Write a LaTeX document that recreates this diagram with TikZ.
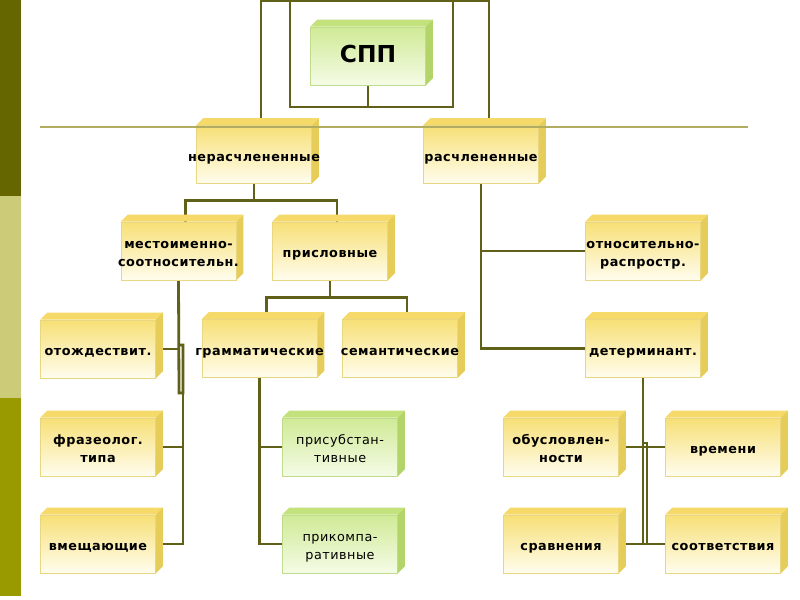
\documentclass[tikz,border=0pt]{standalone}
\usepackage{fontspec}
\setmainfont{DejaVu Sans}
\usetikzlibrary{calc}
\pgfdeclarelayer{bg}
\pgfdeclarelayer{mid}
\pgfsetlayers{bg,mid,main}
\definecolor{lineol}{RGB}{96,96,24}
\definecolor{hline}{RGB}{178,172,96}
\definecolor{sbA}{RGB}{102,102,0}
\definecolor{sbB}{RGB}{204,204,120}
\definecolor{sbC}{RGB}{153,153,0}
\definecolor{yTop}{RGB}{247,224,118}
\definecolor{yBot}{RGB}{255,253,238}
\definecolor{yFace}{RGB}{245,218,105}
\definecolor{ySide}{RGB}{230,204,88}
\definecolor{yEdge}{RGB}{232,214,130}
\definecolor{gTop}{RGB}{208,234,150}
\definecolor{gBot}{RGB}{245,251,230}
\definecolor{gFace}{RGB}{196,226,124}
\definecolor{gSide}{RGB}{178,212,104}
\definecolor{gEdge}{RGB}{190,220,140}
\newfontfamily\boxfont[LetterSpace=4]{DejaVu Sans}
\newcommand{\cx}[1]{\makebox[0pt]{#1}}
\tikzset{
  ybox/.style={minimum width=86.25pt, minimum height=43.5pt, inner sep=0pt,
    text width=86.25pt,
    top color=yTop, bottom color=yBot, draw=yEdge, line width=0.4pt,
    align=center, font=\boxfont\bfseries\fontsize{9.6}{13}\selectfont,
    execute at begin node={\rule{0pt}{12.9pt}},
    execute at end node={\rule[-3pt]{0pt}{0pt}}},
  gbox/.style={ybox, top color=gTop, bottom color=gBot, draw=gEdge,
    font=\boxfont\fontsize{9.6}{13}\selectfont},
  conn/.style={draw=lineol, line width=2.1pt},
}
\newcommand{\facesY}[1]{%
  \fill[yFace] (#1.north west) -- ++(7,-7) -- ($(#1.north east)+(7,-7)$) -- (#1.north east) -- cycle;
  \fill[ySide] (#1.north east) -- ++(7,-7) -- ($(#1.south east)+(7,-7)$) -- (#1.south east) -- cycle;}
\newcommand{\facesG}[1]{%
  \fill[gFace] (#1.north west) -- ++(7,-7) -- ($(#1.north east)+(7,-7)$) -- (#1.north east) -- cycle;
  \fill[gSide] (#1.north east) -- ++(7,-7) -- ($(#1.south east)+(7,-7)$) -- (#1.south east) -- cycle;}
\begin{document}
\begin{tikzpicture}[x=0.75pt, y=-0.75pt]
\useasboundingbox (0,0) rectangle (800,600);
\begin{pgfonlayer}{bg}
\fill[white] (0,0) rectangle (800,600);
% sidebar
\fill[sbA] (0,0) rectangle (21,196);
\fill[sbB] (0,196) rectangle (21,398);
\fill[sbC] (0,398) rectangle (21,596);
\end{pgfonlayer}

% nodes
\node[gbox, font=\bfseries\fontsize{17.5}{20}\selectfont,
  execute at begin node={}, execute at end node={}] (spp) at (368,56) {СПП};
\node[ybox] (ner) at (254,154.5) {\cx{нерасчлененные}};
\node[ybox] (ras) at (481,154.5) {\cx{расчлененные}};
\node[ybox] (mest) at (178.5,251) {\cx{местоименно-}\\\cx{соотносительн.}};
\node[ybox] (prisl) at (330,251) {\cx{присловные}};
\node[ybox] (otnos) at (643,251) {\cx{относительно-}\\\cx{распростр.}};
\node[ybox] (otozh) at (98,349) {\cx{отождествит.}};
\node[ybox] (gram) at (259.5,348.5) {\cx{грамматические}};
\node[ybox] (sem) at (400,348.5) {\cx{семантические}};
\node[ybox] (determ) at (643,348.5) {\cx{детерминант.}};
\node[ybox] (fraz) at (98,447) {\cx{фразеолог.}\\\cx{типа}};
\node[gbox] (prisub) at (340,447) {\cx{присубстан-}\\\cx{тивные}};
\node[ybox] (obus) at (561,447) {\cx{обусловлен-}\\\cx{ности}};
\node[ybox] (vrem) at (723,447) {\cx{времени}};
\node[ybox] (vmesch) at (98,544) {\cx{вмещающие}};
\node[gbox] (prikomp) at (340,544) {\cx{прикомпа-}\\\cx{ративные}};
\node[ybox] (sravn) at (561,544) {\cx{сравнения}};
\node[ybox] (sootv) at (723,544) {\cx{соответствия}};

\begin{pgfonlayer}{bg}
% frame around СПП
\coordinate (ia) at (290,0);
\coordinate (ib) at (453,0);
\draw[conn] (ia) -- (290,107) -- (453,107) -- (ib);
\draw[conn] (spp.south) -- (spp.south |- 0,107);
\coordinate (oa) at (261,118);
\coordinate (ob) at (489,118);
\draw[conn] (oa) -- (261,1) -- (489,1) -- (ob);

% нерасчлененные branch
\coordinate (j1) at ($(ner.south)+(0,17)$);
\draw[conn] (ner.south) -- (j1);
\draw[conn] (j1) -| ($(mest.north)+(7,0)$);
\draw[conn] (j1) -| ($(prisl.north)+(7,0)$);
% присловные branch
\coordinate (j2) at ($(prisl.south)+(0,17)$);
\draw[conn] (prisl.south) -- (j2);
\draw[conn] (j2) -| ($(gram.north)+(7,0)$);
\draw[conn] (j2) -| ($(sem.north)+(7,0)$);
% местоименно branch
\coordinate (m1) at (179,393);
\coordinate (m2) at (183,393);
\draw[conn] (mest.south) -- (m1) -- (m2) -- (183,345) -- (179,345);
\draw[conn] (m2) -- (m2 |- vmesch.east) -- (vmesch.east);
\draw[conn] (otozh.east) -- (m1 |- otozh.east);
\draw[conn] (fraz.east) -- (m2 |- fraz.east);
% грамматические branch
\draw[conn] (gram.south) -- (gram.south |- prikomp.west) -- (prikomp.west);
\draw[conn] (gram.south |- prisub.west) -- (prisub.west);
% расчлененные branch
\draw[conn] (ras.south) -- (ras.south |- determ.west) -- (determ.west);
\draw[conn] (ras.south |- otnos.west) -- (otnos.west);
% детерминант branch
\draw[conn] (determ.south) -- (determ.south |- sravn.east);
\draw[conn] (647,545) -- (647,443) -- (643,443);
\draw[conn] (obus.east) -- (vrem.west);
\draw[conn] (sravn.east) -- (sootv.west);
\end{pgfonlayer}

% 3D faces
\begin{pgfonlayer}{mid}
\facesG{spp}
\foreach \n in {ner,ras,mest,prisl,otnos,otozh,gram,sem,determ,fraz,obus,vrem,vmesch,sravn,sootv}{\facesY{\n}}
\foreach \n in {prisub,prikomp}{\facesG{\n}}
\end{pgfonlayer}

% long horizontal line
\coordinate (hl) at (40,127);
\coordinate (hr) at (748,127);
\draw[draw=hline, line width=1.8pt] (hl) -- (hr);
\end{tikzpicture}
\end{document}
